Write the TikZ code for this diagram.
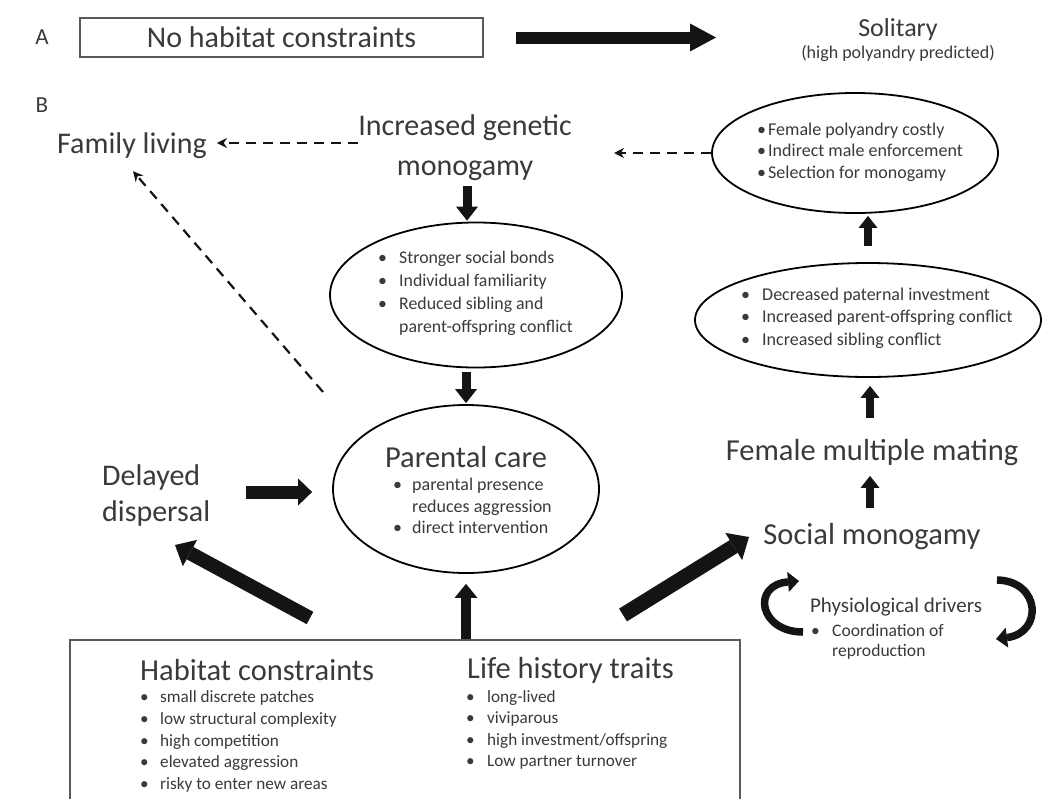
\documentclass[tikz,border=0pt]{standalone}
\usepackage{fontspec}
\setmainfont{Carlito}
\usetikzlibrary{arrows.meta,shapes.geometric,calc}
\definecolor{txtc}{HTML}{3A3A3A}
\definecolor{arrc}{HTML}{141414}
\newcommand{\fsz}[2]{\fontsize{#1}{#2}\selectfont}
\newcommand{\bul}[1]{\makebox[#1][l]{•}}
\begin{document}
\begin{tikzpicture}[x=1pt,y=-1pt,
  txt/.style={text=txtc, inner sep=0pt},
  lst/.style={text=txtc, inner sep=0pt, align=left, anchor=west},
  ell/.style={draw=black, line width=1.8pt, ellipse, inner sep=0pt},
  fatar/.style n args={3}{draw=arrc, line width=#1, -{Triangle[length=#2,width=#3,line width=0pt]}},
  dasharr/.style={draw=arrc, line width=2.2pt, dash pattern=on 10pt off 7pt, -{Stealth[length=10pt,width=10pt]}},
  curvar/.style={draw=arrc, line width=7.5pt, -{Triangle[length=11pt,width=20pt,line width=0pt]}}
]
\useasboundingbox (0,0) rectangle (1043,798);
\fill[white] (0,0) rectangle (1043,798);

% ---------- Part A ----------
\node[txt, font=\fsz{23}{26}] (labA) at (42,37) {A};
\node[draw=black!65, line width=1.4pt, minimum width=403pt, minimum height=39pt, inner sep=0pt,
      text=txtc, font=\fsz{30}{34}] (noh) at (281.5,37.5) {No habitat constraints};
\node[txt, font=\fsz{26}{30}] (sol) at (898,30) {Solitary};
\node[txt, font=\fsz{18}{21}] (solp) at (898,53) {(high polyandry predicted)};
\coordinate (aEnd) at (716,37.5);
\draw[fatar={12pt}{26pt}{28pt}, shorten <=32pt] (noh.east) -- (aEnd);

% ---------- Part B ----------
\node[txt, font=\fsz{23}{26}] (labB) at (42,105) {B};
\node[txt, font=\fsz{30}{34}] (fam) at (132,146) {Family living};
\node[txt, font=\fsz{30}{40}, align=center] (incr) at (465,148) {Increased genetic\\monogamy};

% ellipse: social bonds
\node[ell, minimum width=292pt, minimum height=145pt] (e1) at (476,295) {};
\node[lst, font=\fsz{17.8}{23}] (e1t) at (378,293)
  {\bul{21pt}Stronger social bonds\\\bul{21pt}Individual familiarity\\\bul{21pt}Reduced sibling and\\\hspace*{21pt}parent-offspring conflict};

% parental care
\node[ell, minimum width=266pt, minimum height=168pt] (pc) at (466,489) {};
\node[txt, font=\fsz{30.5}{34}] (pct) at (466,457) {Parental care};
\node[lst, font=\fsz{18}{21.5}] (pcl) at (393,506)
  {\bul{19pt}parental presence\\\hspace*{19pt}reduces aggression\\\bul{19pt}direct intervention};

% delayed dispersal
\node[txt, font=\fsz{30}{36}, align=left, anchor=west] (dd) at (102,495) {Delayed\\dispersal};

% right column
\node[ell, minimum width=286pt, minimum height=120pt] (e2) at (855,153) {};
\node[lst, font=\fsz{18}{21.5}] (e2t) at (757,152)
  {\bul{11pt}Female polyandry costly\\\bul{11pt}Indirect male enforcement\\\bul{11pt}Selection for monogamy};
\node[ell, minimum width=346pt, minimum height=114pt] (e3) at (868,320) {};
\node[lst, font=\fsz{18}{22.5}] (e3t) at (741,318)
  {\bul{21pt}Decreased paternal investment\\\bul{21pt}Increased parent-offspring conflict\\\bul{21pt}Increased sibling conflict};
\node[txt, font=\fsz{30.5}{34}] (fmm) at (872,453) {Female multiple mating};
\node[txt, font=\fsz{30.5}{34}] (sm) at (872,537) {Social monogamy};

% physiological drivers
\node[txt, font=\fsz{21}{25}] (pd) at (896,607) {Physiological drivers};
\node[lst, font=\fsz{17.6}{20}] (pdl) at (811,642)
  {\bul{21pt}Coordination of\\\hspace*{21pt}reproduction};

% bottom box
\node[draw=black!65, line width=1.4pt, minimum width=670pt, minimum height=164pt, inner sep=0pt] (hb) at (405,722) {};
\node[txt, font=\fsz{30.5}{34}, anchor=west] (hct) at (140,670) {Habitat constraints};
\node[lst, font=\fsz{17.2}{21.75}] (hcl) at (140,741.5)
  {\bul{20pt}small discrete patches\\\bul{20pt}low structural complexity\\\bul{20pt}high competition\\\bul{20pt}elevated aggression\\\bul{20pt}risky to enter new areas};
\node[txt, font=\fsz{30.5}{34}, anchor=west] (lht) at (467,670) {Life history traits};
\node[lst, font=\fsz{17.2}{21.5}] (lhl) at (466,730)
  {\bul{21pt}long-lived\\\bul{21pt}viviparous\\\bul{21pt}high investment/offspring\\\bul{21pt}Low partner turnover};

% ---------- connectors ----------
% dashed
\draw[dasharr] ($(incr.west)+(0,-5)$) -- ($(fam.east)+(10,-3)$);
\coordinate (dStart) at (323,392);
\draw[dasharr] (dStart) -- ($(fam.south)+(1,12)$);
\coordinate (e2End) at (614,153);
\draw[dasharr] (e2.west) -- (e2End);

% thick arrows
\draw[fatar={9pt}{14pt}{22pt}] ($(e1.north)+(-9,-36)$) -- ($(e1.north)+(-9,-1)$);
\draw[fatar={9pt}{14pt}{22pt}] ($(e1.south -| pc.north)+(0,4)$) -- ($(pc.north)+(0,-1)$);
\draw[fatar={13pt}{14pt}{27pt}] ($(pc.west)+(-86,3)$) -- ($(pc.west)+(-20,3)$);
\draw[fatar={10pt}{14pt}{23pt}] (hb.north -| pc.south) -- ($(pc.south)+(0,10)$);
\coordinate (bl) at (310,618);
\coordinate (ddTip) at (175,545);
\draw[fatar={14pt}{17pt}{30pt}] (bl) -- (ddTip);
\coordinate (br) at (623,615);
\coordinate (smTip) at (749,537);
\draw[fatar={15pt}{18pt}{32pt}] (br) -- (smTip);
\draw[fatar={8pt}{12pt}{19pt}] ($(e3.south)+(2,130)$) -- ($(e3.south)+(2,98)$);
\draw[fatar={8pt}{12pt}{19pt}] ($(e3.south)+(2,40)$) -- ($(e3.south)+(2,8)$);
\draw[fatar={8pt}{12pt}{19pt}] ($(e3.north)+(0,-16)$) -- ($(e2.south -| e3.north)+(0,2)$);

% curved arrows
\coordinate (cl1) at (803,632);
\coordinate (cl2) at (799,581);
\draw[curvar] (cl1) .. controls (759,632) and (751,585) .. (cl2);
\coordinate (cr1) at (997,580);
\coordinate (cr2) at (996,639);
\draw[curvar] (cr1) .. controls (1041,581) and (1043,633) .. (cr2);
\end{tikzpicture}
\end{document}
